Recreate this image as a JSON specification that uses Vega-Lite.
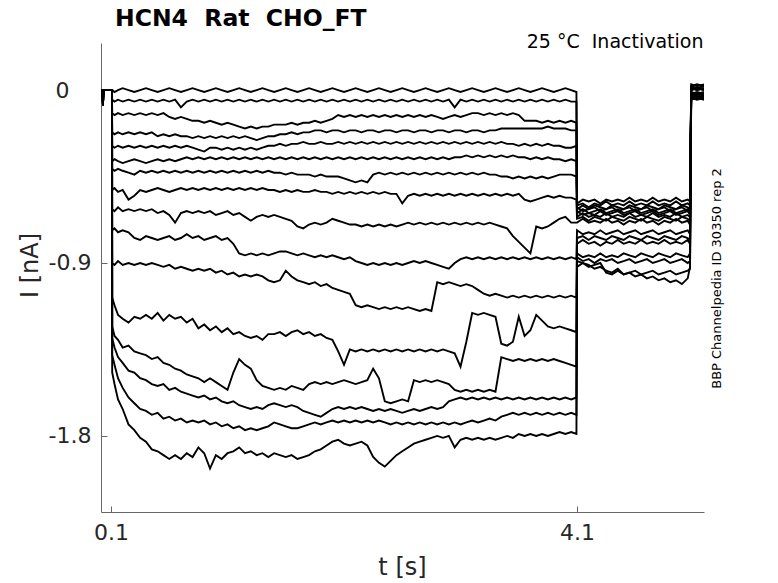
{
 "$schema": "https://vega.github.io/schema/vega-lite/v6.json",
 "width": 603,
 "height": 469,
 "autosize": {"type": "none"},
 "padding": {"left": 101, "top": 43, "right": 74, "bottom": 71},
 "background": "white",
 "config": {"view": {"stroke": null}, "font": "DejaVu Sans"},
 "title": {"text": "HCN4\u00a0 Rat\u00a0 CHO_FT", "anchor": "start", "frame": "group", "dx": 14, "dy": 4, "font": "DejaVu Sans", "fontSize": 23.5, "fontWeight": "bold", "color": "#000000", "offset": 6},
 "layer": [
  {
   "data": {"values": [
    {"t":0.014,"a":0,"b":0,"c":0,"d":0,"e":0,"f":0,"g":0,"h":0,"i":0,"j":0,"k":0,"l":0,"m":0,"n":0,"o":0,"p":0},
    {"t":0.028,"a":0,"b":0,"c":0,"d":0,"e":0,"f":0,"g":0,"h":0,"i":0,"j":0,"k":0,"l":0,"m":0,"n":0,"o":0,"p":0},
    {"t":0.031,"a":-0.08,"b":-0.08,"c":-0.08,"d":-0.08,"e":-0.08,"f":-0.08,"g":-0.08,"h":-0.08,"i":-0.08,"j":-0.08,"k":-0.08,"l":-0.08,"m":-0.08,"n":-0.08,"o":-0.08,"p":-0.08},
    {"t":0.034,"a":0,"b":0,"c":0,"d":0,"e":0,"f":0,"g":0,"h":0,"i":0,"j":0,"k":0,"l":0,"m":0,"n":0,"o":0,"p":0},
    {"t":0.108,"a":0,"b":0,"c":0,"d":0,"e":0,"f":0,"g":0,"h":0,"i":0,"j":0,"k":0,"l":0,"m":0,"n":0,"o":0,"p":0},
    {"t":0.11,"a":0,"b":-0.05,"c":-0.12,"d":-0.22,"e":-0.29,"f":-0.37,"g":-0.41,"h":-0.52,"i":-0.62,"j":-0.73,"k":-0.9,"l":-1.08,"m":-1.23,"n":-1.29,"o":-1.38,"p":-1.47},
    {"t":0.13,"a":-0.01,"b":-0.06,"c":-0.13,"d":-0.23,"e":-0.3,"f":-0.36,"g":-0.42,"h":-0.51,"i":-0.63,"j":-0.72,"k":-0.91,"l":-1.12,"m":-1.28,"n":-1.34,"o":-1.43,"p":-1.53},
    {"t":0.16,"a":0,"b":-0.05,"c":-0.12,"d":-0.22,"e":-0.29,"f":-0.37,"g":-0.41,"h":-0.53,"i":-0.61,"j":-0.74,"k":-0.89,"l":-1.17,"m":-1.3,"n":-1.39,"o":-1.5,"p":-1.61},
    {"t":0.2,"a":0.01,"b":-0.06,"c":-0.13,"d":-0.23,"e":-0.3,"f":-0.38,"g":-0.42,"h":-0.52,"i":-0.63,"j":-0.73,"k":-0.91,"l":-1.19,"m":-1.34,"n":-1.42,"o":-1.55,"p":-1.66},
    {"t":0.25,"a":0,"b":-0.05,"c":-0.12,"d":-0.22,"e":-0.29,"f":-0.37,"g":-0.43,"h":-0.57,"i":-0.62,"j":-0.74,"k":-0.9,"l":-1.21,"m":-1.33,"n":-1.46,"o":-1.6,"p":-1.74},
    {"t":0.3,"a":-0.01,"b":-0.06,"c":-0.13,"d":-0.23,"e":-0.3,"f":-0.36,"g":-0.44,"h":-0.55,"i":-0.63,"j":-0.77,"k":-0.91,"l":-1.18,"m":-1.36,"n":-1.47,"o":-1.63,"p":-1.77},
    {"t":0.35,"a":0,"b":-0.05,"c":-0.12,"d":-0.22,"e":-0.29,"f":-0.37,"g":-0.42,"h":-0.52,"i":-0.62,"j":-0.78,"k":-0.9,"l":-1.19,"m":-1.37,"n":-1.5,"o":-1.66,"p":-1.81},
    {"t":0.4,"a":0.01,"b":-0.06,"c":-0.13,"d":-0.23,"e":-0.3,"f":-0.38,"g":-0.43,"h":-0.53,"i":-0.63,"j":-0.76,"k":-0.91,"l":-1.17,"m":-1.38,"n":-1.51,"o":-1.67,"p":-1.83},
    {"t":0.45,"a":0,"b":-0.05,"c":-0.12,"d":-0.22,"e":-0.29,"f":-0.37,"g":-0.42,"h":-0.52,"i":-0.62,"j":-0.77,"k":-0.9,"l":-1.19,"m":-1.4,"n":-1.53,"o":-1.69,"p":-1.87},
    {"t":0.5,"a":-0.01,"b":-0.06,"c":-0.13,"d":-0.24,"e":-0.3,"f":-0.36,"g":-0.43,"h":-0.51,"i":-0.64,"j":-0.78,"k":-0.91,"l":-1.16,"m":-1.39,"n":-1.54,"o":-1.68,"p":-1.88},
    {"t":0.55,"a":0,"b":-0.05,"c":-0.12,"d":-0.23,"e":-0.29,"f":-0.37,"g":-0.42,"h":-0.52,"i":-0.63,"j":-0.77,"k":-0.92,"l":-1.2,"m":-1.42,"n":-1.53,"o":-1.71,"p":-1.9},
    {"t":0.6,"a":0.01,"b":-0.06,"c":-0.14,"d":-0.24,"e":-0.3,"f":-0.36,"g":-0.43,"h":-0.53,"i":-0.65,"j":-0.76,"k":-0.91,"l":-1.17,"m":-1.43,"n":-1.56,"o":-1.7,"p":-1.92},
    {"t":0.65,"a":0,"b":-0.05,"c":-0.15,"d":-0.23,"e":-0.29,"f":-0.37,"g":-0.42,"h":-0.52,"i":-0.69,"j":-0.78,"k":-0.93,"l":-1.19,"m":-1.45,"n":-1.55,"o":-1.72,"p":-1.9},
    {"t":0.7,"a":-0.01,"b":-0.09,"c":-0.14,"d":-0.24,"e":-0.3,"f":-0.36,"g":-0.43,"h":-0.51,"i":-0.64,"j":-0.77,"k":-0.92,"l":-1.18,"m":-1.46,"n":-1.57,"o":-1.71,"p":-1.92},
    {"t":0.75,"a":0,"b":-0.06,"c":-0.15,"d":-0.24,"e":-0.29,"f":-0.35,"g":-0.42,"h":-0.52,"i":-0.63,"j":-0.75,"k":-0.93,"l":-1.21,"m":-1.48,"n":-1.58,"o":-1.73,"p":-1.89},
    {"t":0.8,"a":0.01,"b":-0.05,"c":-0.16,"d":-0.25,"e":-0.3,"f":-0.36,"g":-0.43,"h":-0.51,"i":-0.64,"j":-0.77,"k":-0.94,"l":-1.19,"m":-1.49,"n":-1.59,"o":-1.72,"p":-1.91},
    {"t":0.85,"a":0,"b":-0.06,"c":-0.16,"d":-0.24,"e":-0.31,"f":-0.35,"g":-0.42,"h":-0.52,"i":-0.63,"j":-0.76,"k":-0.93,"l":-1.24,"m":-1.5,"n":-1.6,"o":-1.73,"p":-1.86},
    {"t":0.9,"a":-0.01,"b":-0.05,"c":-0.17,"d":-0.25,"e":-0.32,"f":-0.36,"g":-0.43,"h":-0.51,"i":-0.64,"j":-0.78,"k":-0.94,"l":-1.22,"m":-1.52,"n":-1.59,"o":-1.72,"p":-1.89},
    {"t":0.95,"a":0,"b":-0.06,"c":-0.16,"d":-0.24,"e":-0.3,"f":-0.35,"g":-0.42,"h":-0.52,"i":-0.63,"j":-0.77,"k":-0.93,"l":-1.25,"m":-1.5,"n":-1.61,"o":-1.74,"p":-1.97},
    {"t":1.0,"a":0.01,"b":-0.05,"c":-0.17,"d":-0.25,"e":-0.3,"f":-0.36,"g":-0.43,"h":-0.51,"i":-0.65,"j":-0.76,"k":-0.95,"l":-1.23,"m":-1.52,"n":-1.6,"o":-1.73,"p":-1.9},
    {"t":1.05,"a":0,"b":-0.06,"c":-0.18,"d":-0.24,"e":-0.31,"f":-0.35,"g":-0.42,"h":-0.52,"i":-0.64,"j":-0.78,"k":-0.94,"l":-1.26,"m":-1.54,"n":-1.62,"o":-1.75,"p":-1.92},
    {"t":1.1,"a":-0.01,"b":-0.05,"c":-0.17,"d":-0.25,"e":-0.3,"f":-0.36,"g":-0.43,"h":-0.51,"i":-0.63,"j":-0.77,"k":-0.96,"l":-1.24,"m":-1.56,"n":-1.63,"o":-1.74,"p":-1.89},
    {"t":1.15,"a":0,"b":-0.06,"c":-0.18,"d":-0.24,"e":-0.31,"f":-0.35,"g":-0.42,"h":-0.52,"i":-0.65,"j":-0.8,"k":-0.95,"l":-1.27,"m":-1.47,"n":-1.62,"o":-1.76,"p":-1.88},
    {"t":1.2,"a":0.01,"b":-0.05,"c":-0.19,"d":-0.25,"e":-0.3,"f":-0.36,"g":-0.43,"h":-0.51,"i":-0.64,"j":-0.85,"k":-0.97,"l":-1.26,"m":-1.4,"n":-1.64,"o":-1.75,"p":-1.86},
    {"t":1.25,"a":0,"b":-0.06,"c":-0.2,"d":-0.24,"e":-0.31,"f":-0.35,"g":-0.42,"h":-0.52,"i":-0.66,"j":-0.86,"k":-0.96,"l":-1.28,"m":-1.43,"n":-1.65,"o":-1.77,"p":-1.89},
    {"t":1.3,"a":-0.01,"b":-0.05,"c":-0.19,"d":-0.25,"e":-0.3,"f":-0.36,"g":-0.43,"h":-0.51,"i":-0.68,"j":-0.85,"k":-0.97,"l":-1.29,"m":-1.45,"n":-1.66,"o":-1.76,"p":-1.88},
    {"t":1.35,"a":0,"b":-0.06,"c":-0.2,"d":-0.26,"e":-0.31,"f":-0.35,"g":-0.42,"h":-0.52,"i":-0.66,"j":-0.86,"k":-0.96,"l":-1.28,"m":-1.51,"n":-1.65,"o":-1.77,"p":-1.9},
    {"t":1.4,"a":0.01,"b":-0.05,"c":-0.19,"d":-0.25,"e":-0.3,"f":-0.36,"g":-0.43,"h":-0.51,"i":-0.65,"j":-0.85,"k":-0.97,"l":-1.3,"m":-1.54,"n":-1.66,"o":-1.76,"p":-1.89},
    {"t":1.45,"a":0,"b":-0.06,"c":-0.19,"d":-0.24,"e":-0.29,"f":-0.35,"g":-0.42,"h":-0.52,"i":-0.66,"j":-0.86,"k":-0.99,"l":-1.27,"m":-1.55,"n":-1.64,"o":-1.75,"p":-1.91},
    {"t":1.5,"a":-0.01,"b":-0.05,"c":-0.18,"d":-0.24,"e":-0.29,"f":-0.36,"g":-0.43,"h":-0.52,"i":-0.65,"j":-0.85,"k":-1.0,"l":-1.27,"m":-1.56,"n":-1.63,"o":-1.73,"p":-1.89},
    {"t":1.55,"a":0,"b":-0.06,"c":-0.18,"d":-0.23,"e":-0.28,"f":-0.35,"g":-0.43,"h":-0.53,"i":-0.66,"j":-0.84,"k":-0.99,"l":-1.26,"m":-1.55,"n":-1.64,"o":-1.74,"p":-1.9},
    {"t":1.6,"a":0.01,"b":-0.05,"c":-0.18,"d":-0.23,"e":-0.29,"f":-0.36,"g":-0.44,"h":-0.52,"i":-0.67,"j":-0.84,"k":-0.94,"l":-1.28,"m":-1.56,"n":-1.65,"o":-1.75,"p":-1.91},
    {"t":1.65,"a":0,"b":-0.06,"c":-0.17,"d":-0.22,"e":-0.28,"f":-0.35,"g":-0.43,"h":-0.53,"i":-0.68,"j":-0.85,"k":-0.97,"l":-1.26,"m":-1.54,"n":-1.64,"o":-1.76,"p":-1.9},
    {"t":1.7,"a":-0.01,"b":-0.05,"c":-0.18,"d":-0.23,"e":-0.28,"f":-0.36,"g":-0.44,"h":-0.52,"i":-0.71,"j":-0.86,"k":-0.99,"l":-1.25,"m":-1.55,"n":-1.65,"o":-1.76,"p":-1.92},
    {"t":1.75,"a":0,"b":-0.06,"c":-0.17,"d":-0.22,"e":-0.27,"f":-0.35,"g":-0.44,"h":-0.53,"i":-0.72,"j":-0.85,"k":-1.0,"l":-1.27,"m":-1.56,"n":-1.67,"o":-1.75,"p":-1.91},
    {"t":1.8,"a":0.01,"b":-0.05,"c":-0.17,"d":-0.22,"e":-0.28,"f":-0.36,"g":-0.44,"h":-0.53,"i":-0.7,"j":-0.86,"k":-1.01,"l":-1.26,"m":-1.53,"n":-1.68,"o":-1.74,"p":-1.9},
    {"t":1.85,"a":0,"b":-0.06,"c":-0.16,"d":-0.21,"e":-0.28,"f":-0.35,"g":-0.45,"h":-0.52,"i":-0.69,"j":-0.87,"k":-1.0,"l":-1.28,"m":-1.52,"n":-1.69,"o":-1.73,"p":-1.88},
    {"t":1.9,"a":-0.01,"b":-0.05,"c":-0.17,"d":-0.21,"e":-0.27,"f":-0.36,"g":-0.44,"h":-0.53,"i":-0.7,"j":-0.86,"k":-1.02,"l":-1.27,"m":-1.53,"n":-1.7,"o":-1.74,"p":-1.87},
    {"t":1.95,"a":0,"b":-0.06,"c":-0.16,"d":-0.22,"e":-0.28,"f":-0.35,"g":-0.45,"h":-0.53,"i":-0.69,"j":-0.87,"k":-1.01,"l":-1.29,"m":-1.52,"n":-1.68,"o":-1.73,"p":-1.85},
    {"t":2.0,"a":0.01,"b":-0.05,"c":-0.15,"d":-0.21,"e":-0.28,"f":-0.36,"g":-0.45,"h":-0.54,"i":-0.67,"j":-0.86,"k":-1.03,"l":-1.3,"m":-1.53,"n":-1.66,"o":-1.72,"p":-1.83},
    {"t":2.05,"a":0,"b":-0.06,"c":-0.13,"d":-0.21,"e":-0.27,"f":-0.35,"g":-0.45,"h":-0.53,"i":-0.68,"j":-0.87,"k":-1.04,"l":-1.36,"m":-1.52,"n":-1.65,"o":-1.73,"p":-1.82},
    {"t":2.1,"a":-0.01,"b":-0.05,"c":-0.14,"d":-0.22,"e":-0.28,"f":-0.36,"g":-0.46,"h":-0.54,"i":-0.69,"j":-0.88,"k":-1.05,"l":-1.43,"m":-1.51,"n":-1.66,"o":-1.72,"p":-1.84},
    {"t":2.15,"a":0,"b":-0.06,"c":-0.13,"d":-0.21,"e":-0.27,"f":-0.35,"g":-0.47,"h":-0.53,"i":-0.7,"j":-0.87,"k":-1.06,"l":-1.35,"m":-1.52,"n":-1.65,"o":-1.73,"p":-1.85},
    {"t":2.2,"a":0.01,"b":-0.05,"c":-0.14,"d":-0.21,"e":-0.28,"f":-0.36,"g":-0.48,"h":-0.54,"i":-0.7,"j":-0.89,"k":-1.12,"l":-1.36,"m":-1.53,"n":-1.66,"o":-1.72,"p":-1.84},
    {"t":2.25,"a":0,"b":-0.06,"c":-0.13,"d":-0.22,"e":-0.27,"f":-0.35,"g":-0.47,"h":-0.53,"i":-0.71,"j":-0.9,"k":-1.13,"l":-1.35,"m":-1.52,"n":-1.65,"o":-1.73,"p":-1.83},
    {"t":2.3,"a":-0.01,"b":-0.05,"c":-0.14,"d":-0.21,"e":-0.28,"f":-0.36,"g":-0.48,"h":-0.54,"i":-0.7,"j":-0.91,"k":-1.12,"l":-1.36,"m":-1.51,"n":-1.66,"o":-1.72,"p":-1.85},
    {"t":2.35,"a":0,"b":-0.06,"c":-0.13,"d":-0.21,"e":-0.27,"f":-0.35,"g":-0.44,"h":-0.53,"i":-0.71,"j":-0.9,"k":-1.13,"l":-1.35,"m":-1.45,"n":-1.67,"o":-1.73,"p":-1.91},
    {"t":2.4,"a":0.01,"b":-0.05,"c":-0.14,"d":-0.22,"e":-0.28,"f":-0.36,"g":-0.43,"h":-0.54,"i":-0.7,"j":-0.91,"k":-1.14,"l":-1.36,"m":-1.5,"n":-1.66,"o":-1.72,"p":-1.94},
    {"t":2.45,"a":0,"b":-0.06,"c":-0.13,"d":-0.21,"e":-0.27,"f":-0.35,"g":-0.44,"h":-0.53,"i":-0.71,"j":-0.9,"k":-1.13,"l":-1.35,"m":-1.62,"n":-1.67,"o":-1.73,"p":-1.96},
    {"t":2.5,"a":-0.01,"b":-0.05,"c":-0.14,"d":-0.21,"e":-0.28,"f":-0.36,"g":-0.43,"h":-0.54,"i":-0.7,"j":-0.91,"k":-1.14,"l":-1.36,"m":-1.63,"n":-1.66,"o":-1.74,"p":-1.93},
    {"t":2.55,"a":0,"b":-0.06,"c":-0.13,"d":-0.22,"e":-0.27,"f":-0.35,"g":-0.44,"h":-0.54,"i":-0.71,"j":-0.9,"k":-1.13,"l":-1.35,"m":-1.62,"n":-1.67,"o":-1.73,"p":-1.9},
    {"t":2.6,"a":0.01,"b":-0.05,"c":-0.14,"d":-0.21,"e":-0.28,"f":-0.36,"g":-0.43,"h":-0.59,"i":-0.7,"j":-0.91,"k":-1.14,"l":-1.36,"m":-1.61,"n":-1.68,"o":-1.74,"p":-1.88},
    {"t":2.65,"a":0,"b":-0.06,"c":-0.13,"d":-0.21,"e":-0.27,"f":-0.35,"g":-0.44,"h":-0.55,"i":-0.69,"j":-0.9,"k":-1.13,"l":-1.35,"m":-1.62,"n":-1.67,"o":-1.73,"p":-1.86},
    {"t":2.7,"a":-0.01,"b":-0.05,"c":-0.14,"d":-0.22,"e":-0.28,"f":-0.36,"g":-0.43,"h":-0.54,"i":-0.7,"j":-0.89,"k":-1.14,"l":-1.36,"m":-1.51,"n":-1.66,"o":-1.74,"p":-1.84},
    {"t":2.75,"a":0,"b":-0.06,"c":-0.13,"d":-0.21,"e":-0.27,"f":-0.35,"g":-0.44,"h":-0.55,"i":-0.69,"j":-0.9,"k":-1.15,"l":-1.35,"m":-1.52,"n":-1.67,"o":-1.73,"p":-1.83},
    {"t":2.8,"a":0.01,"b":-0.05,"c":-0.14,"d":-0.21,"e":-0.28,"f":-0.36,"g":-0.43,"h":-0.54,"i":-0.7,"j":-0.89,"k":-1.14,"l":-1.36,"m":-1.51,"n":-1.66,"o":-1.74,"p":-1.82},
    {"t":2.85,"a":0,"b":-0.06,"c":-0.13,"d":-0.22,"e":-0.27,"f":-0.35,"g":-0.44,"h":-0.55,"i":-0.69,"j":-0.9,"k":-1.15,"l":-1.35,"m":-1.52,"n":-1.65,"o":-1.73,"p":-1.81},
    {"t":2.9,"a":-0.01,"b":-0.05,"c":-0.14,"d":-0.21,"e":-0.28,"f":-0.36,"g":-0.43,"h":-0.54,"i":-0.7,"j":-0.91,"k":-1.0,"l":-1.36,"m":-1.51,"n":-1.66,"o":-1.74,"p":-1.8},
    {"t":2.95,"a":0,"b":-0.06,"c":-0.15,"d":-0.21,"e":-0.27,"f":-0.35,"g":-0.44,"h":-0.55,"i":-0.69,"j":-0.92,"k":-1.01,"l":-1.35,"m":-1.52,"n":-1.65,"o":-1.73,"p":-1.81},
    {"t":3.0,"a":0.01,"b":-0.05,"c":-0.14,"d":-0.22,"e":-0.28,"f":-0.36,"g":-0.43,"h":-0.54,"i":-0.7,"j":-0.93,"k":-1.0,"l":-1.36,"m":-1.53,"n":-1.62,"o":-1.74,"p":-1.8},
    {"t":3.05,"a":0,"b":-0.09,"c":-0.13,"d":-0.21,"e":-0.27,"f":-0.35,"g":-0.44,"h":-0.55,"i":-0.69,"j":-0.9,"k":-1.01,"l":-1.37,"m":-1.56,"n":-1.61,"o":-1.73,"p":-1.86},
    {"t":3.1,"a":-0.01,"b":-0.05,"c":-0.14,"d":-0.21,"e":-0.28,"f":-0.35,"g":-0.43,"h":-0.54,"i":-0.7,"j":-0.88,"k":-1.02,"l":-1.44,"m":-1.57,"n":-1.6,"o":-1.74,"p":-1.82},
    {"t":3.15,"a":0,"b":-0.06,"c":-0.13,"d":-0.22,"e":-0.27,"f":-0.34,"g":-0.44,"h":-0.55,"i":-0.69,"j":-0.87,"k":-1.01,"l":-1.31,"m":-1.56,"n":-1.61,"o":-1.73,"p":-1.81},
    {"t":3.2,"a":0.01,"b":-0.05,"c":-0.12,"d":-0.21,"e":-0.28,"f":-0.35,"g":-0.43,"h":-0.54,"i":-0.7,"j":-0.88,"k":-1.02,"l":-1.16,"m":-1.57,"n":-1.6,"o":-1.72,"p":-1.82},
    {"t":3.25,"a":0,"b":-0.06,"c":-0.12,"d":-0.21,"e":-0.27,"f":-0.34,"g":-0.44,"h":-0.55,"i":-0.69,"j":-0.87,"k":-1.04,"l":-1.17,"m":-1.56,"n":-1.61,"o":-1.73,"p":-1.81},
    {"t":3.3,"a":-0.01,"b":-0.05,"c":-0.13,"d":-0.22,"e":-0.28,"f":-0.35,"g":-0.43,"h":-0.54,"i":-0.7,"j":-0.88,"k":-1.06,"l":-1.16,"m":-1.57,"n":-1.6,"o":-1.72,"p":-1.82},
    {"t":3.35,"a":0,"b":-0.06,"c":-0.12,"d":-0.21,"e":-0.27,"f":-0.34,"g":-0.44,"h":-0.55,"i":-0.69,"j":-0.87,"k":-1.07,"l":-1.17,"m":-1.56,"n":-1.61,"o":-1.71,"p":-1.81},
    {"t":3.4,"a":0.01,"b":-0.05,"c":-0.13,"d":-0.21,"e":-0.28,"f":-0.35,"g":-0.44,"h":-0.54,"i":-0.7,"j":-0.88,"k":-1.06,"l":-1.18,"m":-1.57,"n":-1.6,"o":-1.72,"p":-1.82},
    {"t":3.45,"a":0,"b":-0.06,"c":-0.12,"d":-0.2,"e":-0.27,"f":-0.34,"g":-0.45,"h":-0.55,"i":-0.71,"j":-0.87,"k":-1.07,"l":-1.32,"m":-1.39,"n":-1.61,"o":-1.7,"p":-1.81},
    {"t":3.5,"a":-0.01,"b":-0.05,"c":-0.13,"d":-0.2,"e":-0.28,"f":-0.35,"g":-0.45,"h":-0.54,"i":-0.72,"j":-0.88,"k":-1.08,"l":-1.33,"m":-1.4,"n":-1.6,"o":-1.69,"p":-1.8},
    {"t":3.55,"a":0,"b":-0.06,"c":-0.12,"d":-0.2,"e":-0.28,"f":-0.34,"g":-0.46,"h":-0.55,"i":-0.76,"j":-0.87,"k":-1.07,"l":-1.31,"m":-1.41,"n":-1.61,"o":-1.68,"p":-1.81},
    {"t":3.6,"a":0.01,"b":-0.05,"c":-0.13,"d":-0.2,"e":-0.29,"f":-0.35,"g":-0.45,"h":-0.54,"i":-0.79,"j":-0.88,"k":-1.08,"l":-1.18,"m":-1.4,"n":-1.6,"o":-1.69,"p":-1.79},
    {"t":3.65,"a":0,"b":-0.06,"c":-0.16,"d":-0.2,"e":-0.28,"f":-0.35,"g":-0.46,"h":-0.57,"i":-0.82,"j":-0.87,"k":-1.07,"l":-1.28,"m":-1.41,"n":-1.61,"o":-1.68,"p":-1.8},
    {"t":3.7,"a":-0.01,"b":-0.05,"c":-0.16,"d":-0.2,"e":-0.29,"f":-0.36,"g":-0.45,"h":-0.58,"i":-0.85,"j":-0.88,"k":-1.08,"l":-1.25,"m":-1.4,"n":-1.6,"o":-1.69,"p":-1.79},
    {"t":3.75,"a":0,"b":-0.06,"c":-0.16,"d":-0.2,"e":-0.28,"f":-0.35,"g":-0.46,"h":-0.57,"i":-0.71,"j":-0.87,"k":-1.07,"l":-1.17,"m":-1.41,"n":-1.61,"o":-1.68,"p":-1.8},
    {"t":3.8,"a":0.01,"b":-0.05,"c":-0.17,"d":-0.2,"e":-0.29,"f":-0.36,"g":-0.45,"h":-0.56,"i":-0.72,"j":-0.88,"k":-1.08,"l":-1.2,"m":-1.4,"n":-1.6,"o":-1.69,"p":-1.79},
    {"t":3.85,"a":0,"b":-0.06,"c":-0.16,"d":-0.19,"e":-0.28,"f":-0.35,"g":-0.46,"h":-0.55,"i":-0.71,"j":-0.87,"k":-1.07,"l":-1.23,"m":-1.41,"n":-1.61,"o":-1.68,"p":-1.8},
    {"t":3.9,"a":-0.01,"b":-0.05,"c":-0.17,"d":-0.2,"e":-0.29,"f":-0.36,"g":-0.45,"h":-0.56,"i":-0.69,"j":-0.88,"k":-1.08,"l":-1.24,"m":-1.4,"n":-1.6,"o":-1.69,"p":-1.79},
    {"t":3.95,"a":0,"b":-0.06,"c":-0.16,"d":-0.2,"e":-0.29,"f":-0.36,"g":-0.44,"h":-0.55,"i":-0.67,"j":-0.87,"k":-1.07,"l":-1.23,"m":-1.41,"n":-1.61,"o":-1.68,"p":-1.78},
    {"t":4.0,"a":0.01,"b":-0.05,"c":-0.17,"d":-0.2,"e":-0.3,"f":-0.37,"g":-0.44,"h":-0.56,"i":-0.66,"j":-0.88,"k":-1.08,"l":-1.24,"m":-1.42,"n":-1.6,"o":-1.69,"p":-1.79},
    {"t":4.05,"a":0,"b":-0.06,"c":-0.16,"d":-0.21,"e":-0.3,"f":-0.36,"g":-0.44,"h":-0.56,"i":-0.69,"j":-0.87,"k":-1.07,"l":-1.25,"m":-1.43,"n":-1.61,"o":-1.68,"p":-1.78},
    {"t":4.095,"a":-0.01,"b":-0.06,"c":-0.17,"d":-0.21,"e":-0.29,"f":-0.37,"g":-0.45,"h":-0.57,"i":-0.69,"j":-0.88,"k":-1.08,"l":-1.26,"m":-1.44,"n":-1.6,"o":-1.69,"p":-1.79},
    {"t":4.1,"a":-0.59,"b":-0.6,"c":-0.62,"d":-0.61,"e":-0.64,"f":-0.63,"g":-0.66,"h":-0.67,"i":-0.69,"j":-0.73,"k":-0.77,"l":-0.8,"m":-0.85,"n":-0.87,"o":-0.89,"p":-0.92},
    {"t":4.15,"a":-0.57,"b":-0.59,"c":-0.6,"d":-0.63,"e":-0.62,"f":-0.65,"g":-0.64,"h":-0.66,"i":-0.67,"j":-0.75,"k":-0.76,"l":-0.78,"m":-0.87,"n":-0.89,"o":-0.9,"p":-0.9},
    {"t":4.2,"a":-0.58,"b":-0.61,"c":-0.62,"d":-0.62,"e":-0.64,"f":-0.64,"g":-0.66,"h":-0.68,"i":-0.69,"j":-0.74,"k":-0.78,"l":-0.8,"m":-0.86,"n":-0.88,"o":-0.92,"p":-0.91},
    {"t":4.25,"a":-0.57,"b":-0.59,"c":-0.6,"d":-0.61,"e":-0.63,"f":-0.65,"g":-0.65,"h":-0.66,"i":-0.68,"j":-0.75,"k":-0.76,"l":-0.79,"m":-0.87,"n":-0.9,"o":-0.91,"p":-0.93},
    {"t":4.3,"a":-0.59,"b":-0.6,"c":-0.61,"d":-0.63,"e":-0.62,"f":-0.63,"g":-0.66,"h":-0.67,"i":-0.69,"j":-0.73,"k":-0.77,"l":-0.81,"m":-0.85,"n":-0.88,"o":-0.9,"p":-0.92},
    {"t":4.35,"a":-0.57,"b":-0.58,"c":-0.62,"d":-0.62,"e":-0.64,"f":-0.65,"g":-0.64,"h":-0.68,"i":-0.67,"j":-0.75,"k":-0.78,"l":-0.79,"m":-0.87,"n":-0.89,"o":-0.95,"p":-0.94},
    {"t":4.4,"a":-0.58,"b":-0.6,"c":-0.6,"d":-0.61,"e":-0.63,"f":-0.64,"g":-0.66,"h":-0.66,"i":-0.69,"j":-0.74,"k":-0.76,"l":-0.8,"m":-0.86,"n":-0.88,"o":-0.96,"p":-0.95},
    {"t":4.45,"a":-0.57,"b":-0.59,"c":-0.61,"d":-0.63,"e":-0.62,"f":-0.63,"g":-0.65,"h":-0.67,"i":-0.68,"j":-0.73,"k":-0.77,"l":-0.78,"m":-0.87,"n":-0.9,"o":-0.94,"p":-0.93},
    {"t":4.5,"a":-0.58,"b":-0.6,"c":-0.62,"d":-0.62,"e":-0.64,"f":-0.65,"g":-0.66,"h":-0.68,"i":-0.7,"j":-0.75,"k":-0.78,"l":-0.8,"m":-0.85,"n":-0.89,"o":-0.96,"p":-0.96},
    {"t":4.55,"a":-0.56,"b":-0.58,"c":-0.6,"d":-0.61,"e":-0.63,"f":-0.64,"g":-0.64,"h":-0.66,"i":-0.68,"j":-0.74,"k":-0.76,"l":-0.79,"m":-0.86,"n":-0.88,"o":-0.95,"p":-0.95},
    {"t":4.6,"a":-0.58,"b":-0.6,"c":-0.61,"d":-0.63,"e":-0.62,"f":-0.63,"g":-0.66,"h":-0.67,"i":-0.69,"j":-0.73,"k":-0.77,"l":-0.8,"m":-0.87,"n":-0.9,"o":-0.94,"p":-0.97},
    {"t":4.65,"a":-0.57,"b":-0.59,"c":-0.62,"d":-0.62,"e":-0.64,"f":-0.65,"g":-0.65,"h":-0.68,"i":-0.67,"j":-0.75,"k":-0.78,"l":-0.78,"m":-0.85,"n":-0.89,"o":-0.96,"p":-0.96},
    {"t":4.7,"a":-0.58,"b":-0.6,"c":-0.6,"d":-0.61,"e":-0.63,"f":-0.64,"g":-0.66,"h":-0.66,"i":-0.69,"j":-0.74,"k":-0.76,"l":-0.8,"m":-0.86,"n":-0.88,"o":-0.95,"p":-0.98},
    {"t":4.75,"a":-0.56,"b":-0.58,"c":-0.61,"d":-0.63,"e":-0.62,"f":-0.63,"g":-0.64,"h":-0.67,"i":-0.68,"j":-0.73,"k":-0.77,"l":-0.79,"m":-0.87,"n":-0.9,"o":-0.94,"p":-0.97},
    {"t":4.8,"a":-0.58,"b":-0.6,"c":-0.62,"d":-0.62,"e":-0.64,"f":-0.65,"g":-0.66,"h":-0.68,"i":-0.7,"j":-0.75,"k":-0.78,"l":-0.8,"m":-0.85,"n":-0.89,"o":-0.96,"p":-0.99},
    {"t":4.85,"a":-0.57,"b":-0.59,"c":-0.6,"d":-0.61,"e":-0.63,"f":-0.64,"g":-0.65,"h":-0.66,"i":-0.68,"j":-0.74,"k":-0.76,"l":-0.78,"m":-0.86,"n":-0.88,"o":-0.95,"p":-0.98},
    {"t":4.9,"a":-0.58,"b":-0.6,"c":-0.61,"d":-0.63,"e":-0.62,"f":-0.63,"g":-0.66,"h":-0.67,"i":-0.69,"j":-0.73,"k":-0.77,"l":-0.8,"m":-0.87,"n":-0.9,"o":-0.94,"p":-1.0},
    {"t":4.95,"a":-0.56,"b":-0.58,"c":-0.62,"d":-0.62,"e":-0.64,"f":-0.65,"g":-0.64,"h":-0.68,"i":-0.67,"j":-0.75,"k":-0.78,"l":-0.79,"m":-0.85,"n":-0.89,"o":-0.96,"p":-0.99},
    {"t":5.0,"a":-0.58,"b":-0.6,"c":-0.6,"d":-0.61,"e":-0.63,"f":-0.64,"g":-0.66,"h":-0.66,"i":-0.69,"j":-0.74,"k":-0.76,"l":-0.8,"m":-0.86,"n":-0.88,"o":-0.95,"p":-1.01},
    {"t":5.05,"a":-0.57,"b":-0.59,"c":-0.61,"d":-0.63,"e":-0.62,"f":-0.63,"g":-0.65,"h":-0.67,"i":-0.68,"j":-0.73,"k":-0.77,"l":-0.78,"m":-0.87,"n":-0.9,"o":-0.94,"p":-0.98},
    {"t":5.07,"a":-0.58,"b":-0.6,"c":-0.62,"d":-0.62,"e":-0.64,"f":-0.65,"g":-0.66,"h":-0.68,"i":-0.7,"j":-0.75,"k":-0.78,"l":-0.8,"m":-0.85,"n":-0.89,"o":-0.93,"p":-0.92},
    {"t":5.08,"a":0.03,"b":0.02,"c":0.01,"d":0,"e":-0.01,"f":-0.02,"g":-0.03,"h":-0.04,"i":-0.05,"j":-0.02,"k":0.01,"l":0,"m":-0.03,"n":0.02,"o":-0.04,"p":-0.05},
    {"t":5.13,"a":0.02,"b":0.03,"c":0,"d":0.01,"e":-0.02,"f":-0.01,"g":-0.04,"h":-0.03,"i":-0.04,"j":-0.03,"k":0,"l":0.01,"m":-0.02,"n":0.01,"o":-0.05,"p":-0.04},
    {"t":5.19,"a":0.03,"b":0.02,"c":0.01,"d":0,"e":-0.01,"f":-0.02,"g":-0.03,"h":-0.04,"i":-0.05,"j":-0.02,"k":0.01,"l":0,"m":-0.03,"n":0.02,"o":-0.04,"p":-0.05}
   ]},
   "transform": [{"fold": ["a","b","c","d","e","f","g","h","i","j","k","l","m","n","o","p"], "as": ["trace", "current"]}],
   "mark": {"type": "line", "color": "#000000", "strokeWidth": 1.9, "clip": true},
   "encoding": {
    "x": {"field": "t", "type": "quantitative",
     "scale": {"domain": [0.014, 5.19], "nice": false, "zero": false},
     "axis": {"values": [0.1, 4.1], "format": ".1f", "grid": false, "domainColor": "#666666", "tickColor": "#666666", "tickSize": -6, "labelPadding": 16, "labelFont": "DejaVu Sans", "labelFontSize": 22, "labelColor": "#262626", "title": "t [s]", "titleFont": "DejaVu Sans", "titleFontSize": 24, "titleFontWeight": "normal", "titleColor": "#262626", "titleX": 301, "titleY": 55, "titleBaseline": "middle"}},
    "y": {"field": "current", "type": "quantitative",
     "scale": {"domain": [-2.196, 0.245], "nice": false, "zero": false},
     "axis": {"values": [-1.8, -0.9, 0], "labelExpr": "datum.value === 0 ? '0' : '-' + format(-datum.value, '.1f')", "grid": false, "domainColor": "#666666", "tickColor": "#666666", "tickSize": -6, "labelPadding": {"condition": {"test": "datum.value === 0", "value": 38}, "value": 16}, "labelFont": "DejaVu Sans", "labelFontSize": 22, "labelColor": "#262626", "title": "I [nA]", "titleFont": "DejaVu Sans", "titleFontSize": 24, "titleFontWeight": "normal", "titleColor": "#262626", "titleAngle": 270, "titleX": -71, "titleY": 222, "titleBaseline": "middle", "titleAlign": "center"}},
    "detail": {"field": "trace", "type": "nominal"}
   }
  },
  {
   "data": {"values": [{"t": 1, "current": 0}]},
   "mark": {"type": "point", "opacity": 0},
   "encoding": {
    "x": {"field": "t", "type": "quantitative",
     "scale": {"domain": [0.014, 5.19], "nice": false, "zero": false},
     "axis": {"orient": "top", "domain": false, "ticks": false, "labels": false, "grid": false, "title": "25 \u00b0C\u00a0 Inactivation", "titleFont": "DejaVu Sans", "titleFontSize": 19, "titleFontWeight": "normal", "titleColor": "#000000", "titleAlign": "right", "titleX": 602, "titleY": 4, "titleBaseline": "alphabetic"}},
    "y": {"field": "current", "type": "quantitative",
     "scale": {"domain": [-2.196, 0.245], "nice": false, "zero": false},
     "axis": {"orient": "right", "domain": false, "ticks": false, "labels": false, "grid": false, "title": "BBP Channelpedia ID 30350 rep 2", "titleFont": "DejaVu Sans", "titleFontSize": 13, "titleFontWeight": "normal", "titleColor": "#000000", "titleAngle": 270, "titleAlign": "center", "titleBaseline": "middle", "titleX": 12, "titleY": 235}}
   }
  }
 ],
 "resolve": {"axis": {"x": "independent", "y": "independent"}}
}
